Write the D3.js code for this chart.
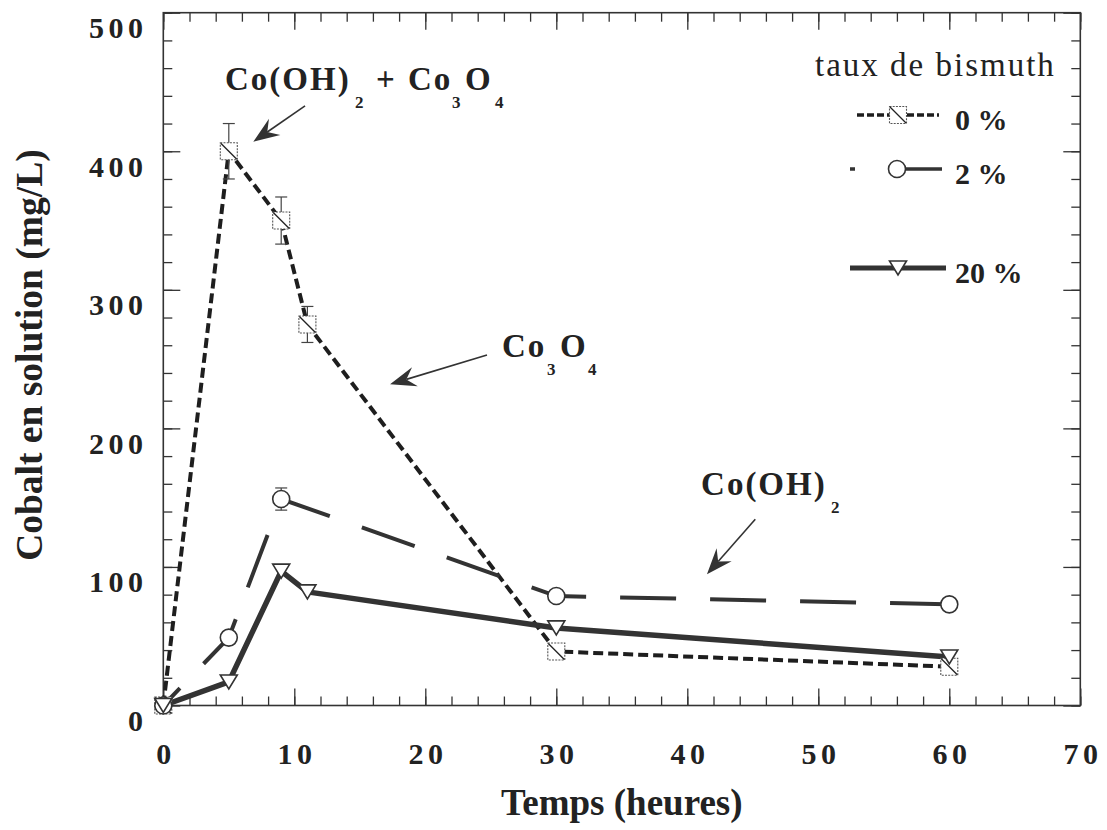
<!DOCTYPE html>
<html><head><meta charset="utf-8">
<script src="https://cdn.jsdelivr.net/npm/d3@7"></script>
<style>
html,body{margin:0;padding:0;background:#fff;}
svg{display:block;}
</style></head><body>
<div id="chart"></div>
<script>
// ---------- data ----------
const hours0   = [0, 5, 9, 11, 30, 60];
const series0  = [0, 400, 350, 275, 39, 28];      // taux de bismuth 0 %
const err0     = [0, 20, 17, 13, 0, 0];
const hours2   = [0, 5, 9, 30, 60];
const series2  = [0, 49, 149, 79, 73];            // 2 %
const err2     = [0, 0, 8, 0, 0];
const hours20  = [0, 5, 9, 11, 30, 60];
const series20 = [0, 17, 97, 82, 56, 35];         // 20 %
const xTicks = [0, 10, 20, 30, 40, 50, 60, 70];
const yTicks = [0, 100, 200, 300, 400, 500];
const legendTitle = "taux de bismuth";
const legendLabels = ["0 %", "2 %", "20 %"];
const xTitle = "Temps (heures)";
const yTitle = "Cobalt en solution (mg/L)";

// ---------- layout ----------
const W = 1107, H = 830;
const margin = {top: 12.7, right: 26.7, bottom: 124.5, left: 163.3};
const FONT = "'Liberation Serif','Times New Roman',Times,serif";
const INK = "#222";

const x = d3.scaleLinear().domain([0, 70]).range([margin.left, W - margin.right]);
const y = d3.scaleLinear().domain([0, 500]).range([H - margin.bottom, margin.top]);

const svg = d3.select("#chart").append("svg").attr("width", W).attr("height", H)
  .style("font-family", FONT);
svg.append("rect").attr("width", W).attr("height", H).attr("fill", "#fff");

// ---------- axes ----------
function clean(g) {
  g.attr("font-family", FONT).attr("font-size", null);
  g.select(".domain").remove();
  g.selectAll(".tick line").attr("stroke", "#333").attr("stroke-width", 1.3);
}
const minorX = d3.range(0, 71, 2), minorY = d3.range(0, 501, 20);

// bottom
svg.append("g").attr("transform", `translate(0,${y(0)})`)
  .call(d3.axisBottom(x).tickValues(minorX).tickSize(-9).tickFormat(""))
  .call(clean);
const bx = svg.append("g").attr("transform", `translate(0,${y(0)})`)
  .call(d3.axisBottom(x).tickValues(xTicks).tickSize(-17).tickFormat(d3.format("d")))
  .call(clean);
bx.selectAll("text").attr("y", 58).attr("dy", null).attr("x", 2.2)
  .attr("font-size", 30).attr("font-weight", "bold").attr("letter-spacing", "4.5px").attr("fill", INK);
// top
svg.append("g").attr("transform", `translate(0,${y(500)})`)
  .call(d3.axisTop(x).tickValues(minorX).tickSize(-9).tickFormat("")).call(clean);
svg.append("g").attr("transform", `translate(0,${y(500)})`)
  .call(d3.axisTop(x).tickValues(xTicks).tickSize(-17).tickFormat("")).call(clean);
// left
svg.append("g").attr("transform", `translate(${x(0)},0)`)
  .call(d3.axisLeft(y).tickValues(minorY).tickSize(-9).tickFormat("")).call(clean);
const ly = svg.append("g").attr("transform", `translate(${x(0)},0)`)
  .call(d3.axisLeft(y).tickValues(yTicks).tickSize(-17).tickFormat(d3.format("d")))
  .call(clean);
ly.selectAll("text").attr("x", -15.8).attr("y", 25).attr("dy", null)
  .attr("font-size", 30).attr("font-weight", "bold").attr("letter-spacing", "4.5px").attr("fill", INK);
// right
svg.append("g").attr("transform", `translate(${x(70)},0)`)
  .call(d3.axisRight(y).tickValues(minorY).tickSize(-9).tickFormat("")).call(clean);
svg.append("g").attr("transform", `translate(${x(70)},0)`)
  .call(d3.axisRight(y).tickValues(yTicks).tickSize(-17).tickFormat("")).call(clean);

// frame
svg.append("rect").attr("x", x(0)).attr("y", y(500))
  .attr("width", x(70) - x(0)).attr("height", y(0) - y(500))
  .attr("fill", "none").attr("stroke", "#333").attr("stroke-width", 1.6);

// axis titles
svg.append("text").attr("x", (x(0) + x(70)) / 2).attr("y", 815)
  .attr("text-anchor", "middle").attr("font-size", 37).attr("font-weight", "bold")
  .attr("fill", INK).text(xTitle);
svg.append("text").attr("transform", `translate(42,${(y(0) + y(500)) / 2 - 4}) rotate(-90)`)
  .attr("text-anchor", "middle").attr("font-size", 37.5).attr("font-weight", "bold")
  .attr("fill", INK).text(yTitle);

// ---------- series lines ----------
const line = d3.line().x(d => x(d[0])).y(d => y(d[1]));
const pts0 = hours0.map((h, i) => [h, series0[i], err0[i]]);
const pts2 = hours2.map((h, i) => [h, series2[i], err2[i]]);
const pts20 = hours20.map((h, i) => [h, series20[i]]);

svg.append("path").datum(pts0).attr("d", line).attr("fill", "none")
  .attr("stroke", "#1e1e1e").attr("stroke-width", 4).attr("stroke-dasharray", "10,5");
svg.append("path").datum(pts2).attr("d", line).attr("fill", "none")
  .attr("stroke", "#333").attr("stroke-width", 4)
  .attr("stroke-dasharray", "56,34").attr("stroke-dashoffset", 32);
svg.append("path").datum(pts20).attr("d", line).attr("fill", "none")
  .attr("stroke", "#333").attr("stroke-width", 5.5).attr("stroke-linejoin", "round");

// ---------- error bars ----------
function errorBars(pts) {
  const g = svg.append("g").attr("stroke", "#444").attr("stroke-width", 1.2);
  pts.filter(d => d[2] > 0).forEach(d => {
    const cx = x(d[0]);
    g.append("line").attr("x1", cx).attr("x2", cx).attr("y1", y(d[1] - d[2])).attr("y2", y(d[1] + d[2]));
    [d[1] - d[2], d[1] + d[2]].forEach(v =>
      g.append("line").attr("x1", cx - 6).attr("x2", cx + 6).attr("y1", y(v)).attr("y2", y(v)));
  });
}
errorBars(pts0);
errorBars(pts2);

// ---------- markers ----------
function square(g) {
  g.append("rect").attr("x", -8.5).attr("y", -8.5).attr("width", 17).attr("height", 17)
    .attr("fill", "#fff").attr("stroke", "#555").attr("stroke-width", 1.1).attr("stroke-dasharray", "2,1.2");
  g.append("line").attr("x1", -8).attr("y1", -8).attr("x2", 8).attr("y2", 8)
    .attr("stroke", "#222").attr("stroke-width", 1.3);
}
function circle(g) {
  g.append("circle").attr("r", 8.5).attr("fill", "#fff").attr("stroke", "#333").attr("stroke-width", 1.6);
}
function triangle(g) {
  g.append("path").attr("d", "M-8.5,-7L8.5,-7L0,7Z")
    .attr("fill", "#fff").attr("stroke", "#333").attr("stroke-width", 1.6);
}
function markers(pts, fn) {
  pts.forEach(d => fn(svg.append("g").attr("transform", `translate(${x(d[0])},${y(d[1])})`)));
}
markers(pts0, square);
markers(pts2, circle);
markers(pts20, triangle);

// ---------- annotations ----------
function arrow(x1, y1, x2, y2) {
  const X1 = x(x1), Y1 = y(y1), X2 = x(x2), Y2 = y(y2);
  const a = Math.atan2(Y2 - Y1, X2 - X1);
  const c = Math.cos(a), s = Math.sin(a);
  const P = ([u, v]) => [X2 + u * c - v * s, Y2 + u * s + v * c];
  const back = P([-17, 0]);
  svg.append("line").attr("x1", X1).attr("y1", Y1).attr("x2", back[0]).attr("y2", back[1])
    .attr("stroke", "#333").attr("stroke-width", 1.6);
  svg.append("path").attr("d", "M" + [P([0, 0]), P([-26, -10]), P([-17, 0]), P([-26, 10])].join("L") + "Z")
    .attr("fill", "#333");
}
function formula(x0, y0, parts) {
  const X = x(x0), Y = y(y0);
  parts.forEach(([t, dx, sub]) => {
    svg.append("text").attr("x", X + dx).attr("y", Y + (sub ? 18 : 0))
      .attr("font-size", sub ? 17 : 33).attr("font-weight", "bold")
      .attr("letter-spacing", sub ? null : "2px").attr("fill", INK).text(t);
  });
}
formula(4.71, 444.2, [["Co(OH)", 0, false], ["2", 130, true], ["+", 151, false],
  ["Co", 183, false], ["3", 227, true], ["O", 240, false], ["4", 270, true]]);
arrow(10.82, 432.8, 6.87, 406.9);
formula(25.85, 251.5, [["Co", 0, false], ["3", 45, true], ["O", 58, false], ["4", 86, true]]);
arrow(24.71, 253.0, 17.31, 231.8);
formula(41.05, 151.9, [["Co(OH)", 0, false], ["2", 130, true]]);
arrow(45.19, 134.4, 41.5, 94.7);

// ---------- legend ----------
const legX = 850, legRows = [115, 169, 268];
svg.append("text").attr("x", 815).attr("y", 76).attr("font-size", 33)
  .attr("letter-spacing", "2px").attr("fill", INK).text(legendTitle);
// 0 %
svg.append("line").attr("x1", legX + 7).attr("x2", legX + 89).attr("y1", legRows[0]).attr("y2", legRows[0])
  .attr("stroke", "#1e1e1e").attr("stroke-width", 3.5).attr("stroke-dasharray", "7,3");
square(svg.append("g").attr("transform", `translate(${legX + 48},${legRows[0]})`));
// 2 %
svg.append("line").attr("x1", legX).attr("x2", legX + 92).attr("y1", legRows[1]).attr("y2", legRows[1])
  .attr("stroke", "#333").attr("stroke-width", 3.5)
  .attr("stroke-dasharray", "56,34").attr("stroke-dashoffset", 51);
circle(svg.append("g").attr("transform", `translate(${legX + 47},${legRows[1]})`));
// 20 %
svg.append("line").attr("x1", legX).attr("x2", legX + 96).attr("y1", legRows[2]).attr("y2", legRows[2])
  .attr("stroke", "#333").attr("stroke-width", 5);
triangle(svg.append("g").attr("transform", `translate(${legX + 48},${legRows[2]})`));

legendLabels.forEach((t, i) => {
  svg.append("text").attr("x", 955).attr("y", legRows[i] + 15).attr("font-size", 30)
    .attr("font-weight", "bold").attr("fill", INK).text(t);
});
</script>
</body></html>
